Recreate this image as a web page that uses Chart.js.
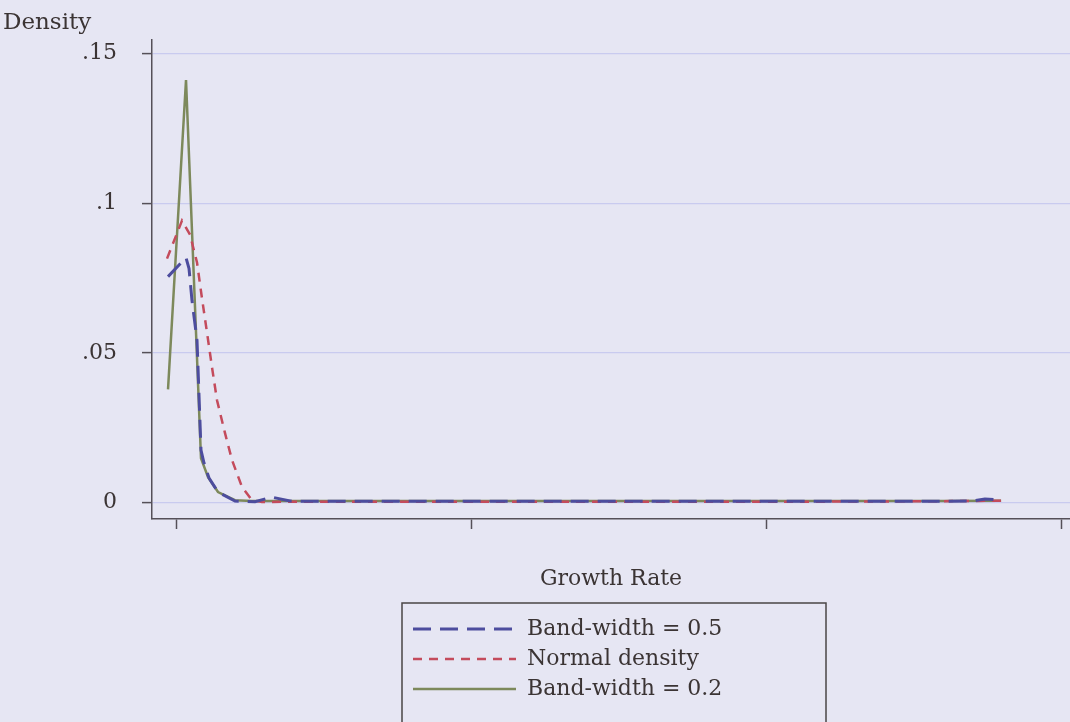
<!DOCTYPE html>
<html>
<head>
<meta charset="utf-8">
<script src="https://cdn.jsdelivr.net/npm/chart.js@4/dist/chart.umd.min.js"></script>
<style>
  html, body { margin: 0; padding: 0; background: #e6e6f3; }
  #wrap { width: 1070px; height: 722px; }
</style>
</head>
<body>
<div id="wrap"><canvas id="c" width="1070" height="722"></canvas></div>
<script>
// ---- data ----
const seriesLabels = ['Band-width = 0.5', 'Normal density', 'Band-width = 0.2'];

const bw05X = [-0.0271, 0.0339, 0.0441, 0.0542, 0.0712, 0.0847, 0.0949, 0.1119, 0.1424, 0.2000, 0.2678, 0.3254, 0.3864, 0.50, 0.70, 0.90, 1.10, 1.30, 1.50, 1.70, 1.90, 2.10, 2.30, 2.50, 2.70, 2.742, 2.797];
const bw05Y = [0.0755, 0.0818, 0.0782, 0.0675, 0.0542, 0.0175, 0.0132, 0.0082, 0.0035, 0.0005, 0.0003, 0.0018, 0.0005, 0.0004, 0.0004, 0.0004, 0.0004, 0.0004, 0.0004, 0.0004, 0.0004, 0.0004, 0.0004, 0.0004, 0.0005, 0.0012, 0.0008];

const normX = [-0.0305, 0.0203, 0.0475, 0.0712, 0.0881, 0.1051, 0.1220, 0.1390, 0.1661, 0.1898, 0.2237, 0.2576, 0.2915, 0.45, 0.70, 1.00, 1.30, 1.60, 1.90, 2.20, 2.50, 2.797];
const normY = [0.0815, 0.0942, 0.0895, 0.0802, 0.0682, 0.0568, 0.0452, 0.0342, 0.0232, 0.0142, 0.0052, 0.0008, 0.0002, 0.0003, 0.0003, 0.0003, 0.0003, 0.0003, 0.0003, 0.0003, 0.0004, 0.0006];

const bw02X = [-0.0271, 0.0339, 0.0847, 0.1085, 0.1424, 0.2000, 0.2576, 0.40, 0.60, 0.80, 1.00, 1.20, 1.40, 1.60, 1.80, 2.00, 2.20, 2.40, 2.60, 2.797];
const bw02Y = [0.0378, 0.1412, 0.0148, 0.0085, 0.0035, 0.0008, 0.0005, 0.0005, 0.0005, 0.0005, 0.0005, 0.0005, 0.0005, 0.0005, 0.0005, 0.0005, 0.0005, 0.0005, 0.0005, 0.0006];

const xTickValues = [0, 1, 2, 3];
const yTickValues = [0, 0.05, 0.1, 0.15];
const yTickLabels = ['0', '.05', '.1', '.15'];

const xRange = [-0.0814, 3.0305];
const yRange = [-0.0055, 0.1547];

// ---- styling ----
const FONT = 'DejaVu Serif';
const TEXT = '#3b3434';
const AXIS = '#555058';
const GRID = '#c9cbef';

const toPts = (xs, ys) => xs.map((x, i) => ({ x: x, y: ys[i] }));

const legendFrame = {
  id: 'legendFrame',
  beforeLayout(chart) {
    const lg = chart.legend;
    if (lg && !lg._patched) {
      const orig = lg.fit;
      lg.fit = function () { orig.call(this); this.height = 112; };
      lg._patched = true;
    }
  },
  afterLayout(chart) {
    const lg = chart.legend;
    if (!lg) return;
    lg.left = 405; lg.right = 828; lg.width = lg.right - lg.left;
  },
  afterDraw(chart) {
    const lg = chart.legend;
    const ctx = chart.ctx;
    ctx.save();
    ctx.strokeStyle = '#4a4646';
    ctx.lineWidth = 1.5;
    ctx.strokeRect(lg.left - 3, lg.top - 7, lg.right - lg.left + 1, 140);
    ctx.restore();
  }
};

new Chart(document.getElementById('c'), {
  type: 'line',
  data: {
    datasets: [
      { label: seriesLabels[0], data: toPts(bw05X, bw05Y), borderColor: '#4d4d9e', borderWidth: 3, borderDash: [18, 9], pointRadius: 0, fill: false, tension: 0 },
      { label: seriesLabels[1], data: toPts(normX, normY), borderColor: '#c44b5c', borderWidth: 2.5, borderDash: [9, 7], pointRadius: 0, fill: false, tension: 0 },
      { label: seriesLabels[2], data: toPts(bw02X, bw02Y), borderColor: '#7d895b', borderWidth: 2.5, pointRadius: 0, fill: false, tension: 0 }
    ]
  },
  options: {
    responsive: false,
    animation: false,
    devicePixelRatio: 1,
    layout: { padding: { left: 3, right: 0, top: 0, bottom: 0 } },
    plugins: {
      tooltip: { enabled: false },
      title: {
        display: true, text: 'Density', align: 'start', color: TEXT,
        font: { family: FONT, size: 23, weight: 'normal' },
        padding: { top: 9, bottom: 3 }
      },
      legend: {
        display: true, position: 'bottom', align: 'start',
        labels: {
          usePointStyle: true, pointStyle: 'line', pointStyleWidth: 103,
          color: TEXT, padding: 8,
          font: { family: FONT, size: 22 },
          generateLabels: chart => chart.data.datasets.map((ds, i) => ({
            text: ds.label, fillStyle: 'rgba(0,0,0,0)', strokeStyle: ds.borderColor,
            lineWidth: ds.borderWidth, lineDash: ds.borderDash || [], lineCap: 'butt',
            pointStyle: 'line', fontColor: TEXT, hidden: false, datasetIndex: i
          }))
        }
      }
    },
    scales: {
      x: {
        type: 'linear', min: xRange[0], max: xRange[1],
        afterBuildTicks: s => { s.ticks = xTickValues.map(v => ({ value: v })); },
        ticks: { callback: () => '', font: { family: FONT, size: 22 } },
        grid: { display: true, drawOnChartArea: false, drawTicks: true, tickLength: 10, tickColor: AXIS, tickWidth: 1.5 },
        border: { display: true, color: AXIS, width: 1.5 },
        title: { display: true, text: 'Growth Rate', color: TEXT, font: { family: FONT, size: 22 }, padding: { top: 0, bottom: 18 } },
        afterFit: s => { s.height = 91; }
      },
      y: {
        type: 'linear', min: yRange[0], max: yRange[1],
        afterBuildTicks: s => { s.ticks = yTickValues.map(v => ({ value: v })); },
        ticks: {
          callback: v => { const i = yTickValues.indexOf(v); return i >= 0 ? yTickLabels[i] : ''; },
          padding: 25, color: TEXT, font: { family: FONT, size: 22 }
        },
        grid: { color: GRID, lineWidth: 1.2, drawTicks: true, tickLength: 10, tickColor: AXIS, tickWidth: 1.5 },
        border: { display: true, color: AXIS, width: 1.5 },
        afterFit: s => { s.width = 149; }
      }
    }
  },
  plugins: [legendFrame]
});
</script>
</body>
</html>
